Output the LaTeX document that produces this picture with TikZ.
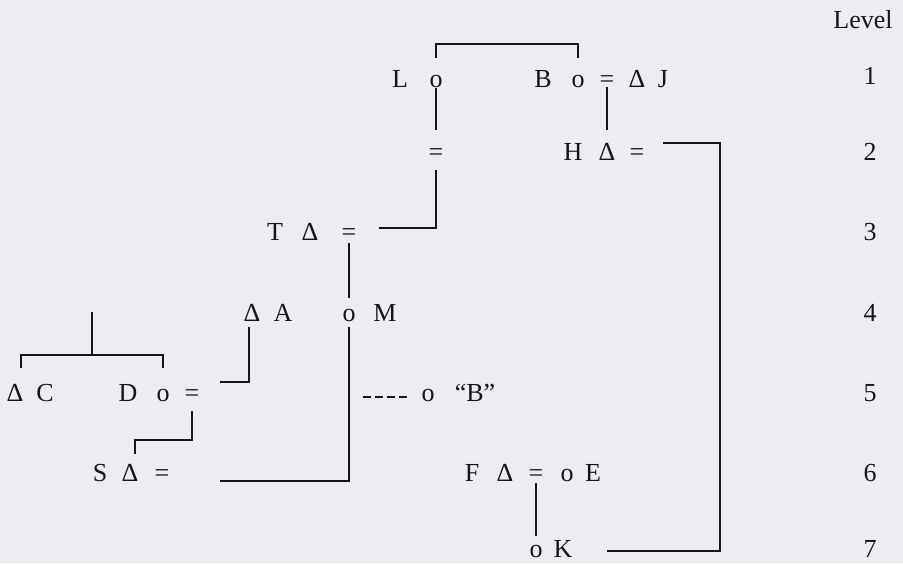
\documentclass[tikz,border=0pt]{standalone}
\usepackage{fontspec}
\setmainfont{Liberation Serif}
\usetikzlibrary{calc}
\definecolor{paper}{RGB}{236,237,240}
\definecolor{ink}{RGB}{22,22,24}
\begin{document}
\begin{tikzpicture}[x=0.5pt,y=-0.5pt,
  g/.style={inner sep=0pt,anchor=base,text=ink,font=\fontsize{13}{15}\selectfont},
  ln/.style={draw=ink,line width=1pt},
  dsh/.style={draw=ink,line width=1pt,dash pattern=on 4pt off 2pt}]
\fill[paper] (0,0) rectangle (903,563);
\useasboundingbox (0,0) rectangle (903,563);
% level column
\node[g] (lev) at (863,28) {Level};
\node[g] (l1) at (870,84) {1};
\node[g] (l2) at (870,160) {2};
\node[g] (l3) at (870,240) {3};
\node[g] (l4) at (870,321) {4};
\node[g] (l5) at (870,401) {5};
\node[g] (l6) at (870,481) {6};
\node[g] (l7) at (870,557) {7};
% row 1
\node[g] (L) at (400,87) {L};
\node[g] (Lo) at (436,87) {o};
\node[g] (B) at (543,87) {B};
\node[g] (Bo) at (578,87) {o};
\node[g] (eqBJ) at (607,87) {=};
\node[g] (JD) at (637,87) {Δ};
\node[g] (J) at (663,87) {J};
% row 2
\node[g] (eqL) at (436,160) {=};
\node[g] (H) at (573,160) {H};
\node[g] (HD) at (607,160) {Δ};
\node[g] (eqH) at (637,160) {=};
% row 3
\node[g] (T) at (275,240) {T};
\node[g] (TD) at (310,240) {Δ};
\node[g] (eqT) at (349,240) {=};
% row 4
\node[g] (AD) at (252,321) {Δ};
\node[g] (A) at (283,321) {A};
\node[g] (oM) at (349,321) {o};
\node[g] (M) at (385,321) {M};
% row 5
\node[g] (CD) at (15,401) {Δ};
\node[g] (C) at (45,401) {C};
\node[g] (D) at (128,401) {D};
\node[g] (Do) at (163,401) {o};
\node[g] (eqD) at (192,401) {=};
\node[g] (oB) at (428,401) {o};
\node[g] (QB) at (475,401) {“B”};
% row 6
\node[g] (S) at (100,481) {S};
\node[g] (SD) at (130,481) {Δ};
\node[g] (eqS) at (162,481) {=};
\node[g] (F) at (472,481) {F};
\node[g] (FD) at (505,481) {Δ};
\node[g] (eqF) at (536,481) {=};
\node[g] (oE) at (567,481) {o};
\node[g] (E) at (593,481) {E};
% row 7
\node[g] (oK) at (536,557) {o};
\node[g] (K) at (563,557) {K};
% connectors
\draw[ln] ($(Lo.base)+(0,-29)$) |- ($(Bo.base)+(0,-43)$) -- ($(Bo.base)+(0,-29)$);
\draw[ln] ($(Lo.base)+(0,1)$) -- ($(eqL.base)+(0,-30)$);
\draw[ln] ($(eqL.base)+(0,10)$) |- ($(eqT.base)+(30,-12)$);
\draw[ln] ($(eqBJ.base)+(0,0)$) -- ($(HD.base)+(0,-30)$);
\draw[ln] ($(eqH.base)+(26,-17)$) -| ($(K.base)+(157,-6)$) -- ($(K.base)+(44,-6)$);
\draw[ln] ($(eqT.base)+(0,3)$) -- ($(oM.base)+(0,-23)$);
\draw[ln] ($(oM.base)+(0,6)$) |- ($(eqS.base)+(58,0)$);
\draw[dsh] ($(oM.base)+(14,76)$) -- ($(oB.base)+(-21,-4)$);
\draw[ln] ($(AD.base)+(-3,6)$) |- ($(eqD.base)+(28,-19)$);
\draw[ln] ($(CD.base)+(6,-33)$) |- ($(Do.base)+(0,-46)$) -- ($(Do.base)+(0,-33)$);
\draw[ln] ($(CD.base)+(77,-89)$) -- ($(CD.base)+(77,-46)$);
\draw[ln] ($(eqD.base)+(0,10)$) -- ($(eqD.base)+(0,39)$) -| ($(SD.base)+(5,-27)$);
\draw[ln] ($(eqF.base)+(0,2)$) -- ($(oK.base)+(0,-21)$);
\end{tikzpicture}
\end{document}
